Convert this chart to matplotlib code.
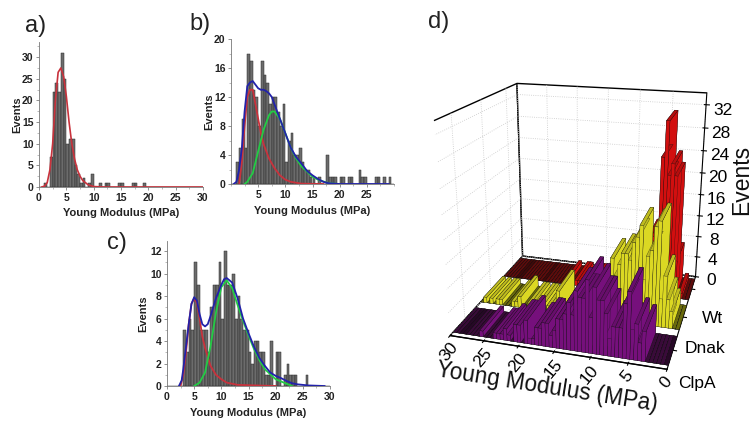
import numpy as np
import matplotlib
matplotlib.use("Agg")
import matplotlib.pyplot as plt

plt.rcParams['font.family'] = ['Liberation Sans', 'DejaVu Sans']

W, H = 753, 421

# histogram counts, bins 0.5 MPa wide from 0 to 30
bin_left = [0.5 * i for i in range(60)]
wt_counts = [0,0,1,0,7,22,24,22,31,25,10,11,11,5,3,1,2,0,1,3,0,0,1,0,1,1,0,0,0,1,
             1,0,0,0,1,1,0,0,1,0,0,0,0,0,0,0,0,0,0,0,0,0,0,0,0,0,0,0,0,0]
dnak_counts = [0,0,3,5,9,5,18,17,13,12,8,17,15,14,11,12,12,10,8,11,3,6,7,4,4,5,3,2,2,1,
               1,0,1,0,0,4,1,1,1,0,1,1,0,1,1,0,0,2,1,1,0,0,0,1,1,0,1,0,1,0]
clpa_counts = [0,0,0,0,0,0,5,3,6,5,11,9,5,5,5,3,7,9,9,11,6,12,9,9,10,6,8,6,5,5,
               3,2,4,4,3,3,1,1,4,0,3,3,0,1,2,1,1,1,0,0,0,1,0,0,0,0,0,0,0,0]

# fitted curves
a_red_x = [0.5,1,1.5,2,2.5,3,3.5,4,4.5,5,5.5,6,6.5,7,7.5,8,9,10,12,30]
a_red_y = [0,0.2,1,4,10,20,26.5,27.5,25.5,21,15,10,6.5,4,2.5,1.5,0.5,0.1,0,0]

b_blue_x = [0.5,1,1.5,2,2.5,3,3.5,4,4.5,5,5.5,6,6.5,7,7.5,8,8.5,9,10,11,12,13,14,15,16,17,18,20,29]
b_blue_y = [0,0.3,2,5,10,13.5,14,14.2,13.7,13.2,13,13,12.8,12.5,12,11,10,9,7,5,3.7,2.8,1.8,1.2,0.7,0.3,0.1,0,0]
b_red_x = [1.5,2,2.5,3,3.5,4,4.5,5,5.5,6,7,8,9,10,11,13,17]
b_red_y = [0,3,8,12,13,13,11,9,7,5.5,3.5,2.2,1.2,0.6,0.3,0.05,0]
b_green_x = [2.5,3,4,5,6,7,7.5,8,9,10,11,12,13,14,15,16,18,20]
b_green_y = [0,0.3,1.5,4.5,7.5,9.5,10,10,9,7,5,3.5,2.4,1.7,1,0.6,0.1,0]

c_blue_x = [2.2,2.7,3,3.5,4,4.5,5,5.5,6,6.5,7,7.5,8,9,10,10.5,11,12,13,14,15,16,17,18,19,20,21,22,23,24,26,29]
c_blue_y = [0,0.5,1.5,3.5,5.5,7.3,7.9,7.6,6.4,5.5,5.3,5.5,6.2,7.8,9,9.5,9.6,9.2,7.8,6,4.7,3.5,2.5,1.8,1.2,0.9,0.7,0.45,0.25,0.15,0.05,0]
c_red_x = [2.5,3,3.5,4,4.5,5,5.5,6,6.5,7,8,9,10,11,13,20]
c_red_y = [0,1,3,5.5,7.3,7.8,7.4,6,4.4,3.4,1.8,1,0.6,0.3,0.1,0]
c_green_x = [5,6,7,8,9,10,11,12,13,14,15,16,17,18,20,23]
c_green_y = [0,0.3,1.2,3.5,6.5,8.8,9.4,8.7,7.2,5.8,4.5,3.3,2.3,1.5,0.6,0]

row_names = ['ClpA', 'Dnak', 'Wt']
row_pos = [0.5, 1.5, 2.5]


def px_axes(fig, left, right, top, bottom, **kw):
    return fig.add_axes([left / W, 1 - bottom / H, (right - left) / W, (bottom - top) / H], **kw)


def hist_panel(ax, counts, ymax, yticks, yminor, xticks, fs, xpad, ypad):
    ax.bar(np.array(bin_left) + 0.25, counts, width=0.5, color='#6c6c6c', edgecolor='#2a2a2a', linewidth=0.35)
    ax.set_xlim(0, 30)
    ax.set_ylim(0, ymax)
    ax.set_xticks(xticks)
    ax.set_yticks(yticks)
    ax.set_yticks(yminor, minor=True)
    ax.set_xticks(np.arange(0, 30.1, 2.5), minor=True)
    for s in ['top', 'right']:
        ax.spines[s].set_visible(False)
    for s in ['left', 'bottom']:
        ax.spines[s].set_color('#777777')
        ax.spines[s].set_linewidth(0.6)
    ax.tick_params(which='major', length=2.5, width=0.5, color='#666666', pad=1.5, labelsize=fs)
    ax.tick_params(which='minor', length=1.5, width=0.4, color='#888888')
    for t in ax.get_xticklabels() + ax.get_yticklabels():
        t.set_fontweight('bold')
        t.set_color('#222222')
    ax.set_xlabel('Young Modulus (MPa)', fontweight='bold', fontsize=8, color='#222222', labelpad=xpad)
    ax.set_ylabel('Events', fontweight='bold', fontsize=8, color='#222222', labelpad=ypad)


fig = plt.figure(figsize=(W / 100, H / 100), dpi=100)

ax1 = px_axes(fig, 39, 203, 42, 187)
hist_panel(ax1, wt_counts, 33.5, [0,5,10,15,20,25,30], np.arange(0,33,2.5), [0,5,10,15,20,25,30], 7.5, 4, 0)
ax1.plot(a_red_x, a_red_y, color='#c8323c', lw=1.2)

ax2 = px_axes(fig, 231, 394, 39, 184)
hist_panel(ax2, dnak_counts, 20, [0,4,8,12,16,20], np.arange(0,20.1,2), [5,10,15,20,25], 7.5, 5, 0)
ax2.plot(b_red_x, b_red_y, color='#c8323c', lw=1.3)
ax2.plot(b_green_x, b_green_y, color='#22cc44', lw=1.3)
ax2.plot(b_blue_x, b_blue_y, color='#2222aa', lw=1.3)

ax3 = px_axes(fig, 167, 330, 241, 386)
hist_panel(ax3, clpa_counts, 12.9, [0,2,4,6,8,10,12], np.arange(0,12.9,1), [0,5,10,15,20,25,30], 7.5, 5, 1)
ax3.plot(c_red_x, c_red_y, color='#c8323c', lw=1.3)
ax3.plot(c_green_x, c_green_y, color='#22cc44', lw=1.3)
ax3.plot(c_blue_x, c_blue_y, color='#2222aa', lw=1.3)

# 3D panel
ax4 = fig.add_axes([402 / W, -4 / H, 353 / W, 1.0], projection='3d', proj_type='persp', focal_length=0.36)
ax4.view_init(elev=20, azim=-74)
ax4.set_box_aspect((0.90, 0.84, 0.90), zoom=0.98)
ax4.computed_zorder = False
ax4.patch.set_alpha(0)
ax4.set_xlim(30, 0, view_margin=0)
ax4.set_ylim(0, 3, view_margin=0)
ax4.set_zlim(0, 34, view_margin=0)

for a in [ax4.xaxis, ax4.yaxis, ax4.zaxis]:
    a.set_pane_color((1, 1, 1, 1))
    a.pane.set_edgecolor('black')
    a._axinfo['grid'].update(color='#c8c8c8', linestyle=':', linewidth=0.6)
    a.line.set_color('black')
    a.line.set_linewidth(0.8)

ax4.set_xticks([0, 5, 10, 15, 20, 25, 30])
ax4.set_yticks(row_pos)
ax4.set_yticklabels(row_names)
ax4.set_zticks(np.arange(0, 33, 4))
ax4.tick_params(axis='x', labelsize=12.5, rotation=50, pad=-6)
ax4.tick_params(axis='y', labelsize=12.5, pad=7)
ax4.tick_params(axis='z', labelsize=12.5, pad=2)
ax4.zaxis.set_ticks_position('upper')

rows = [(wt_counts, 2.1, '#ee1111', '#7a1010'),
        (dnak_counts, 1.1, '#f8f428', '#8a8a10'),
        (clpa_counts, 0.1, '#86128c', '#4a0f4a')]
for counts, y0, col, dark in rows:
    c = np.array(counts, dtype=float)
    colors = [col if v > 0 else dark for v in c]
    ax4.bar3d(bin_left, np.full(60, y0), np.zeros(60), 0.5, 0.8, c, color=colors,
              edgecolor='#111111', linewidth=0.2, shade=True)

fig.text(25 / W, 1 - 26 / H, 'a)', fontsize=17, va='center', ha='left', color='#222222')
fig.text(189 / W, 1 - 24 / H, 'b)', fontsize=17, va='center', ha='left', color='#222222')
fig.text(107 / W, 1 - 243 / H, 'c)', fontsize=17, va='center', ha='left', color='#222222')
fig.text(428 / W, 1 - 22 / H, 'd)', fontsize=17, va='center', ha='left', color='#222222')

fig.text(547 / W, 1 - 387 / H, 'Young Modulus (MPa)', fontsize=16.3, rotation=-9, ha='center', va='center', color='#111111')
fig.text(742 / W, 1 - 180 / H, 'Events', fontsize=16.5, rotation=90, ha='center', va='center', color='#111111')

fig.savefig('out.png', dpi=100)
